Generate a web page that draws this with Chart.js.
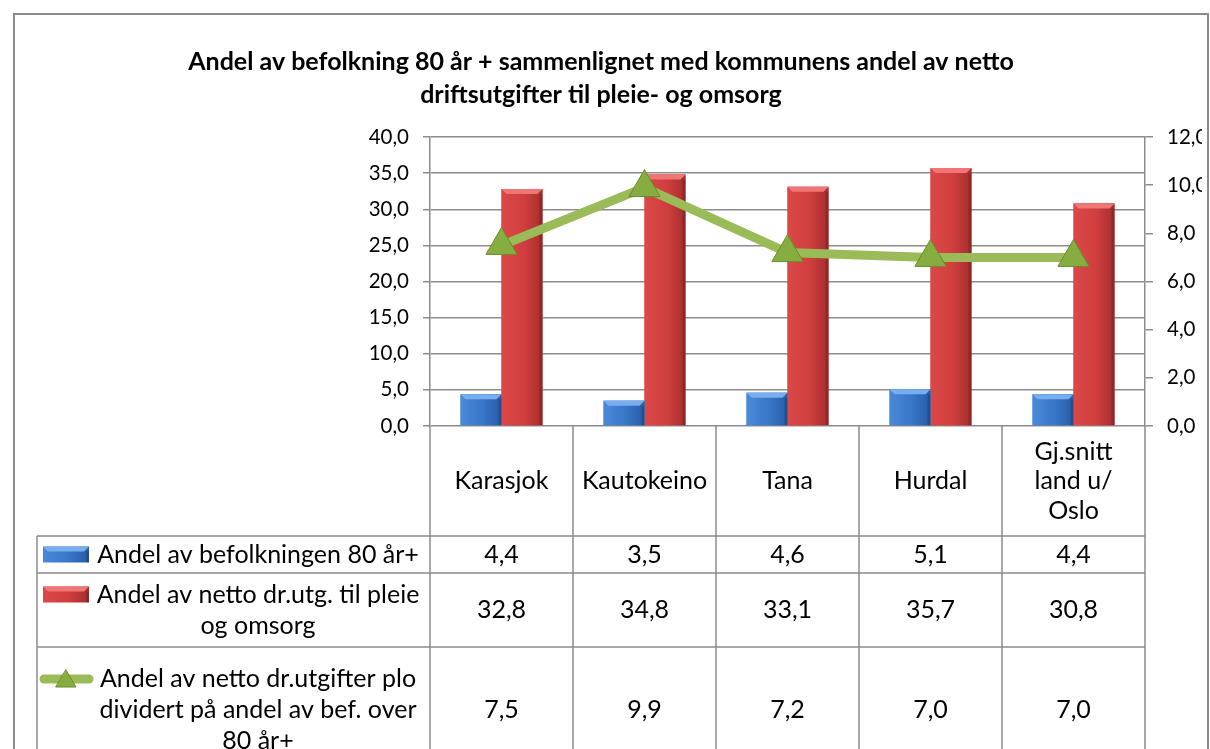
<!DOCTYPE html>
<html>
<head>
<meta charset="utf-8">
<script src="https://cdn.jsdelivr.net/npm/chart.js@4"></script>
<style>
  html, body { margin: 0; padding: 0; background: #fff; }
  #wrap { width: 1210px; height: 749px; position: relative; }
</style>
</head>
<body>
<div id="wrap"><canvas id="chart"></canvas></div>
<script>
// data
const categories = ['Karasjok', 'Kautokeino', 'Tana', 'Hurdal', ['Gj.snitt', 'land u/', 'Oslo']];
const befolkning80 = [4.4, 3.5, 4.6, 5.1, 4.4];
const nettoPleie = [32.8, 34.8, 33.1, 35.7, 30.8];
const ploPerBef = [7.5, 9.9, 7.2, 7.0, 7.0];
const seriesNames = [
  ['Andel av befolkningen 80 år+'],
  ['Andel av netto dr.utg. til pleie', 'og omsorg'],
  ['Andel av netto dr.utgifter plo', 'dividert på andel av bef. over', '80 år+']
];
const leftTicks = [0, 5, 10, 15, 20, 25, 30, 35, 40];
const rightTicks = [0, 2, 4, 6, 8, 10, 12];
const titleLines = [
  'Andel av befolkning 80 år + sammenlignet med kommunens andel av netto',
  'driftsutgifter til pleie- og omsorg'
];

const FONT = 'Lato, "Liberation Sans", sans-serif';
const GRID = '#8c8c8c';
const fmt = v => v.toFixed(1).replace('.', ',');

// table layout (px)
const rowBounds = [[536, 573], [573, 647], [647, 773]];
const tableLeft = 37;
const textCenterX = 258;
const lineH = 31;
const tableFont = '25px ' + FONT;

const barStyles = {
  blue: { light: '#4a8ad8', mid: '#3776c8', dark: '#285ca6', top: '#79aeee' },
  red: { light: '#dc4848', mid: '#d03e3e', dark: '#a62d2d', top: '#f07676' }
};

function bevelRect(ctx, left, top, w, h, st) {
  const g = ctx.createLinearGradient(left, 0, left + w, 0);
  g.addColorStop(0, st.light);
  g.addColorStop(0.55, st.mid);
  g.addColorStop(1, st.dark);
  ctx.fillStyle = g;
  ctx.fillRect(left, top, w, h);
  const b = Math.min(5, h / 2);
  ctx.fillStyle = st.top;
  ctx.beginPath();
  ctx.moveTo(left, top);
  ctx.lineTo(left + w, top);
  ctx.lineTo(left + w - b, top + b);
  ctx.lineTo(left + b, top + b);
  ctx.closePath();
  ctx.fill();
  ctx.fillStyle = 'rgba(0,0,0,0.15)';
  ctx.fillRect(left + w - 3, top + b, 3, h - b);
}

const bevelPlugin = {
  id: 'bevel',
  afterDatasetDraw(chart, args) {
    const meta = args.meta;
    if (meta.type !== 'bar') return;
    const st = args.index === 0 ? barStyles.blue : barStyles.red;
    const ctx = chart.ctx;
    ctx.save();
    meta.data.forEach(el => {
      const p = el.getProps(['x', 'y', 'base', 'width'], true);
      bevelRect(ctx, p.x - p.width / 2, p.y, p.width, p.base - p.y, st);
    });
    ctx.restore();
  }
};

const tablePlugin = {
  id: 'dataTable',
  afterDraw(chart) {
    const ctx = chart.ctx;
    const area = chart.chartArea;
    const xs = chart.scales.x;
    const n = categories.length;
    const colW = (area.right - area.left) / n;
    const H = chart.height;
    ctx.save();
    // outer frame
    ctx.strokeStyle = GRID;
    ctx.lineWidth = 2;
    ctx.beginPath();
    ctx.moveTo(14, H + 5); ctx.lineTo(14, 14); ctx.lineTo(1208, 14); ctx.lineTo(1208, H + 5);
    ctx.stroke();

    // table grid
    ctx.lineWidth = 1.5;
    ctx.beginPath();
    for (let i = 0; i <= n; i++) {
      const x = area.left + i * colW;
      ctx.moveTo(x, area.bottom); ctx.lineTo(x, H);
    }
    rowBounds.forEach(r => { ctx.moveTo(tableLeft, r[0]); ctx.lineTo(area.right, r[0]); });
    ctx.moveTo(tableLeft, rowBounds[0][0]); ctx.lineTo(tableLeft, H);
    ctx.stroke();

    ctx.fillStyle = '#000';
    ctx.textAlign = 'center';
    ctx.textBaseline = 'middle';
    ctx.font = tableFont;

    // header: categories
    const hc = (area.bottom + rowBounds[0][0]) / 2;
    categories.forEach((c, i) => {
      const lines = Array.isArray(c) ? c : [c];
      const x = xs.getPixelForValue(i);
      lines.forEach((t, k) => ctx.fillText(t, x, hc + (k - (lines.length - 1) / 2) * 29.5));
    });

    // rows: series name, key, values
    chart.data.datasets.forEach((ds, r) => {
      const [top, bottom] = rowBounds[r];
      const cy = (top + bottom) / 2;
      const lines = seriesNames[r];
      const y0 = cy - (lines.length - 1) / 2 * lineH;
      ctx.fillStyle = '#000';
      ctx.font = tableFont;
      lines.forEach((t, k) => ctx.fillText(t, textCenterX, y0 + k * lineH));
      ds.data.forEach((v, i) => ctx.fillText(fmt(v), xs.getPixelForValue(i), cy));
      if (ds.type === 'bar') {
        bevelRect(ctx, 43, y0 - 8, 46, 16, r === 0 ? barStyles.blue : barStyles.red);
      } else {
        ctx.strokeStyle = ds.borderColor;
        ctx.lineWidth = 9;
        ctx.lineCap = 'round';
        ctx.beginPath(); ctx.moveTo(44, y0); ctx.lineTo(89, y0); ctx.stroke();
        ctx.fillStyle = ds.pointBackgroundColor;
        ctx.strokeStyle = ds.pointBorderColor;
        ctx.lineWidth = 1;
        ctx.beginPath();
        ctx.moveTo(66, y0 - 9); ctx.lineTo(76, y0 + 8); ctx.lineTo(56, y0 + 8); ctx.closePath();
        ctx.fill(); ctx.stroke();
      }
    });
    ctx.restore();
  }
};

const ctx = document.getElementById('chart').getContext('2d');
new Chart(ctx, {
  data: {
    labels: categories,
    datasets: [
      {
        type: 'bar', label: seriesNames[0].join(' '), data: befolkning80, yAxisID: 'y', order: 1,
        backgroundColor: barStyles.blue.mid, borderWidth: 0,
        categoryPercentage: 0.573, barPercentage: 1
      },
      {
        type: 'bar', label: seriesNames[1].join(' '), data: nettoPleie, yAxisID: 'y', order: 1,
        backgroundColor: barStyles.red.mid, borderWidth: 0,
        categoryPercentage: 0.573, barPercentage: 1
      },
      {
        type: 'line', label: seriesNames[2].join(' '), data: ploPerBef, yAxisID: 'y1', order: 0,
        borderColor: '#9bbb59', borderWidth: 9, tension: 0,
        pointStyle: 'triangle', pointRadius: 18, pointHoverRadius: 18,
        pointBackgroundColor: '#86ad40', pointBorderColor: '#6a8c2c', pointBorderWidth: 1
      }
    ]
  },
  options: {
    responsive: true,
    maintainAspectRatio: false,
    animation: false,
    layout: { padding: { top: 14, left: 0, right: 8, bottom: 0 } },
    plugins: {
      legend: { display: false },
      tooltip: { enabled: false },
      title: {
        display: true,
        text: titleLines,
        color: '#000',
        font: { family: FONT, size: 25, weight: 'bold', lineHeight: 33 / 25 },
        padding: { top: 31.5, bottom: 25.5 }
      }
    },
    scales: {
      x: {
        offset: true,
        grid: { display: false },
        border: { display: false },
        ticks: { display: false },
        afterFit: s => { s.height = 749 - 426; }
      },
      y: {
        position: 'left',
        min: 0, max: 40,
        afterBuildTicks: s => { s.ticks = leftTicks.map(v => ({ value: v })); },
        ticks: { callback: v => fmt(v), color: '#000', padding: 14, font: { family: FONT, size: 20.5 } },
        grid: { color: GRID, lineWidth: 1.5, tickLength: 7 },
        border: { color: GRID, width: 1.5 },
        afterFit: s => { s.width = 430; }
      },
      y1: {
        position: 'right',
        min: 0, max: 12,
        afterBuildTicks: s => { s.ticks = rightTicks.map(v => ({ value: v })); },
        ticks: { callback: v => fmt(v), color: '#000', padding: 14, font: { family: FONT, size: 20.5 } },
        grid: { drawOnChartArea: false, color: GRID, lineWidth: 1.5, tickLength: 8 },
        border: { color: GRID, width: 1.5 },
        afterFit: s => { s.width = 1210 - 8 - 1145; }
      }
    }
  },
  plugins: [bevelPlugin, tablePlugin]
});
</script>
</body>
</html>
